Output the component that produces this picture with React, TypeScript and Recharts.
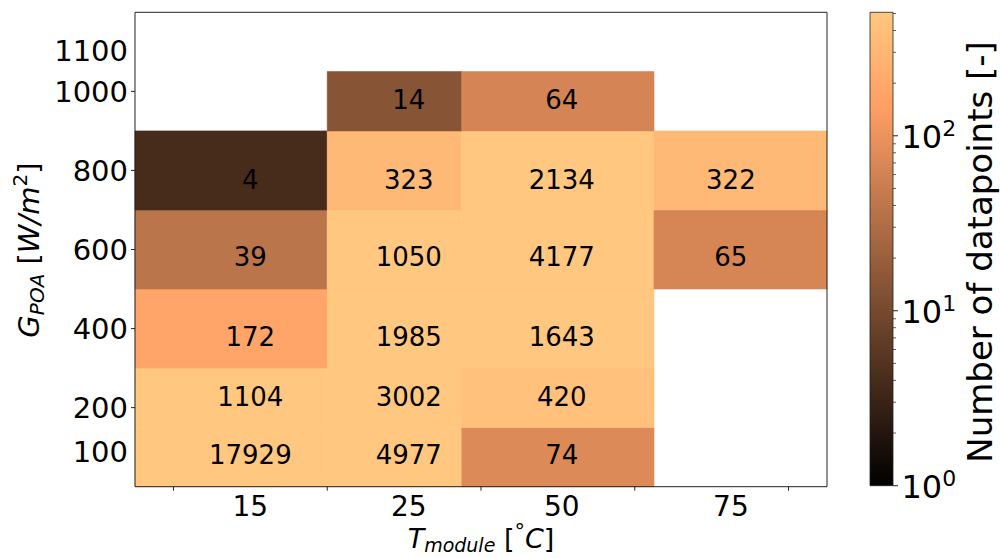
import { ComposedChart, XAxis, YAxis, Scatter, ReferenceArea, Label } from 'recharts';

// temperature bins: axis units, small tick marks sit on whole numbers
const colEdges = [-0.25, 1, 1.875, 3.125, 4.25];
const colCenters = [0.5, 1.53, 2.525, 3.625];
const tempLabels = ['15', '25', '50', '75'];
const xTickMarks = [0, 1, 2, 3, 4];

// irradiance bins, bottom to top
const rowEdges = [0, 150, 300, 500, 700, 900, 1050];
const rowCenters = [80, 229, 380, 582, 776, 980];
const yTickMarks = [200, 400, 600, 800, 1000];
const yLabelPos = [88, 200, 400, 600, 800, 1000, 1104];
const yLabelText = ['100', '200', '400', '600', '800', '1000', '1100'];

// number of datapoints per cell (columns 15, 25, 50, 75 degC)
const g100 = [17929, 4977, 74, null];
const g200 = [1104, 3002, 420, null];
const g400 = [172, 1985, 1643, null];
const g600 = [39, 1050, 4177, 65];
const g800 = [4, 323, 2134, 322];
const g1000 = [null, 14, 64, null];
const rows = [g100, g200, g400, g600, g800, g1000];

// colorbar
const VMAX = 508;
const cbMajor = [1, 10, 100];
const cbExp = ['0', '1', '2'];
const cbMinor = [2, 3, 4, 5, 6, 7, 8, 9, 20, 30, 40, 50, 60, 70, 80, 90, 200, 300, 400, 500];

const FONT = '"DejaVu Sans", sans-serif';

// matplotlib "copper" with a log norm 1..VMAX
const copper = (v: number) => {
  const t = Math.max(0, Math.min(1, Math.log10(v) / Math.log10(VMAX)));
  const r = Math.round(255 * Math.min(1, 1.25 * t));
  const g = Math.round(255 * 0.7812 * t);
  const b = Math.round(255 * 0.4975 * t);
  return `rgb(${r},${g},${b})`;
};

type Cell = { x1: number; x2: number; y1: number; y2: number; fill: string };
type Txt = { x: number; y: number; n: number };

const cells: Cell[] = [];
const texts: Txt[] = [];
rows.forEach((row, r) => {
  row.forEach((n, c) => {
    if (n == null) return;
    cells.push({ x1: colEdges[c], x2: colEdges[c + 1], y1: rowEdges[r], y2: rowEdges[r + 1], fill: copper(n) });
    texts.push({ x: colCenters[c], y: rowCenters[r], n });
  });
});

const XTick = (props: any) => {
  const { x, y, payload } = props;
  const i = colCenters.indexOf(payload.value);
  if (i >= 0) {
    return (
      <text x={x} y={y + 29.5} textAnchor="middle" fontSize={28} fontFamily={FONT} fill="#000">
        {tempLabels[i]}
      </text>
    );
  }
  return <line x1={x} x2={x} y1={y} y2={y + 4} stroke="#222" strokeWidth={1} />;
};

const YTick = (props: any) => {
  const { x, y, payload } = props;
  const i = yLabelPos.indexOf(payload.value);
  return (
    <g>
      {yTickMarks.includes(payload.value) && <line x1={x - 4} x2={x} y1={y} y2={y} stroke="#222" strokeWidth={1} />}
      {i >= 0 && (
        <text x={x - 7} y={y + 10.5} textAnchor="end" fontSize={29} fontFamily={FONT} fill="#000">
          {yLabelText[i]}
        </text>
      )}
    </g>
  );
};

const CbTick = (props: any) => {
  const { x, y, payload } = props;
  const i = cbMajor.indexOf(payload.value);
  if (i < 0) return <line x1={x} x2={x + 3} y1={y} y2={y} stroke="#333" strokeWidth={0.8} />;
  return (
    <g>
      <line x1={x} x2={x + 5} y1={y} y2={y} stroke="#222" strokeWidth={1} />
      <text x={x + 8.5} y={y + 12} fontSize={32} fontFamily={FONT} fill="#000">
        10
        <tspan fontSize={22} dy={-12}>{cbExp[i]}</tspan>
      </text>
    </g>
  );
};

const CellText = (props: any) => {
  const { cx, cy, payload } = props;
  return (
    <text x={cx} y={cy + 9.4} textAnchor="middle" fontSize={26} fontFamily={FONT} fill="#000">
      {payload.n}
    </text>
  );
};

const YTitle = () => (
  <text transform="translate(39,250) rotate(-90)" textAnchor="middle" fontSize={29} fontFamily={FONT} fill="#000">
    <tspan fontStyle="italic">G</tspan>
    <tspan fontStyle="italic" fontSize={20} dy={5}>POA</tspan>
    <tspan dy={-5}> [</tspan>
    <tspan fontStyle="italic">W/m</tspan>
    <tspan fontSize={20} dy={-12}>2</tspan>
    <tspan dy={12}>]</tspan>
  </text>
);

const XTitle = () => (
  <text x={481} y={548} textAnchor="middle" fontSize={27} fontFamily={FONT} fill="#000">
    <tspan fontStyle="italic">T</tspan>
    <tspan fontStyle="italic" fontSize={19} dy={4}>module</tspan>
    <tspan dy={-4}> [</tspan>
    <tspan fontSize={21} dy={-9}>°</tspan>
    <tspan fontStyle="italic" dy={9}>C</tspan>
    <tspan>]</tspan>
  </text>
);

const CbTitle = () => (
  <text transform="translate(992,252) rotate(-90)" textAnchor="middle" fontSize={34} fontFamily={FONT} fill="#000">
    Number of datapoints [-]
  </text>
);

const App = () => {
  return (
    <div style={{ position: 'absolute', left: 0, top: 0, width: 1000, height: 558, background: '#fff', fontFamily: FONT }}>
      <ComposedChart
        width={1000}
        height={558}
        margin={{ top: 12.3, right: 173, bottom: 31.3, left: 55 }}
        style={{ position: 'absolute', left: 0, top: 0 }}
      >
        <XAxis
          type="number"
          dataKey="x"
          domain={[-0.25, 4.25]}
          ticks={[...xTickMarks, ...colCenters]}
          tick={XTick}
          interval={0}
          tickSize={0}
          tickMargin={0}
          tickLine={false}
          axisLine={false}
          height={40}
        >
          <Label content={XTitle} />
        </XAxis>
        <YAxis
          type="number"
          dataKey="y"
          domain={[0, 1200]}
          ticks={yLabelPos}
          tick={YTick}
          interval={0}
          tickSize={0}
          tickMargin={0}
          tickLine={false}
          axisLine={false}
          width={80}
        >
          <Label content={YTitle} />
        </YAxis>
        {cells.map((c, i) => (
          <ReferenceArea
            key={i}
            x1={c.x1}
            x2={c.x2}
            y1={c.y1}
            y2={c.y2}
            fill={c.fill}
            fillOpacity={1}
            stroke={c.fill}
            strokeWidth={0.6}
          />
        ))}
        <ReferenceArea x1={-0.25} x2={4.25} y1={0} y2={1200} fill="none" stroke="#222" strokeWidth={1} />
        <Scatter data={texts} shape={CellText} isAnimationActive={false} />
      </ComposedChart>

      <ComposedChart
        width={1000}
        height={558}
        margin={{ top: 12.3, right: 7, bottom: 72.3, left: 870 }}
        style={{ position: 'absolute', left: 0, top: 0 }}
      >
        <defs>
          <linearGradient id="copperBar" x1="0" y1="1" x2="0" y2="0">
            <stop offset="0" stopColor="rgb(0,0,0)" />
            <stop offset="0.8" stopColor="rgb(255,159,101)" />
            <stop offset="1" stopColor="rgb(255,199,127)" />
          </linearGradient>
        </defs>
        <XAxis type="number" dataKey="x" domain={[0, 1]} hide />
        <YAxis
          type="number"
          dataKey="y"
          orientation="right"
          scale="log"
          domain={[1, VMAX]}
          allowDataOverflow
          ticks={[...cbMajor, ...cbMinor]}
          tick={CbTick}
          interval={0}
          tickSize={0}
          tickMargin={0}
          tickLine={false}
          axisLine={false}
          width={100}
        >
          <Label content={CbTitle} />
        </YAxis>
        <ReferenceArea x1={0} x2={1} y1={1} y2={VMAX} fill="url(#copperBar)" fillOpacity={1} stroke="#222" strokeWidth={0.8} />
        <Scatter data={cbMajor.map((v) => ({ x: 0.5, y: v }))} shape={() => <g />} isAnimationActive={false} />
      </ComposedChart>
    </div>
  );
};

export default App;
